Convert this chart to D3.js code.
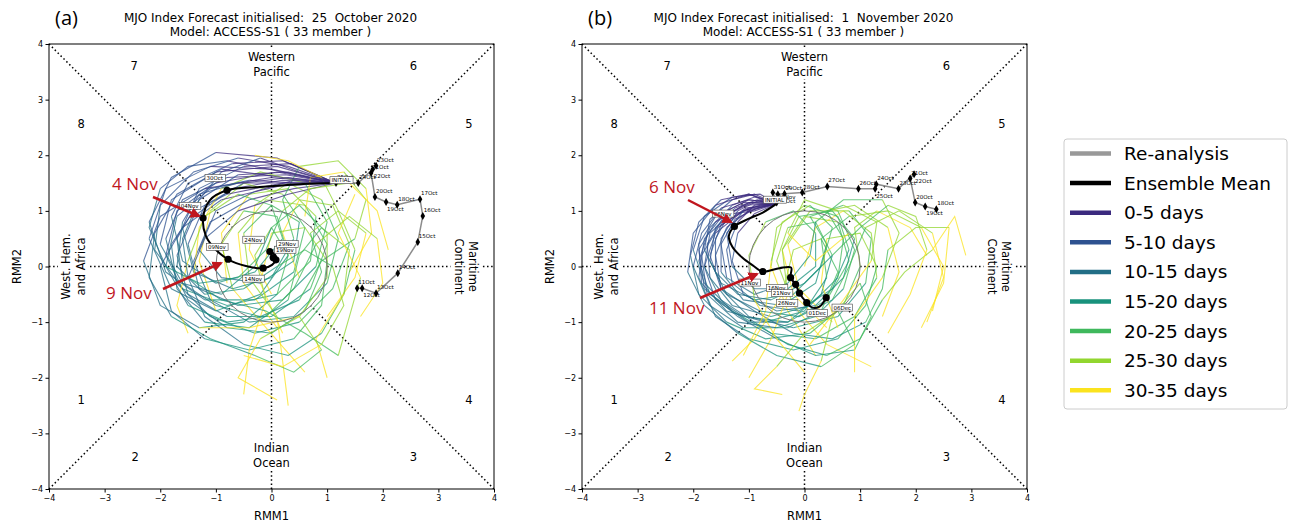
<!DOCTYPE html>
<html lang="en">
<head>
<meta charset="UTF-8">
<title>MJO phase diagrams</title>
<style>
  body { margin: 0; background: #fff; }
  svg text { font-family: "DejaVu Sans", sans-serif; }
  .tick text { font-size: 8px; }
</style>
</head>
<body>
<svg width="1290" height="522"></svg>
<script src="https://cdn.jsdelivr.net/npm/d3@7/dist/d3.min.js"></script>
<script>

var ticks = [-4, -3, -2, -1, 0, 1, 2, 3, 4];
var periodNames = ["0-5 days", "5-10 days", "10-15 days", "15-20 days", "20-25 days", "25-30 days", "30-35 days"];
var periodColors = ["#3b2a7e", "#2e5290", "#226e86", "#18927c", "#3fb85c", "#92d62f", "#fbe31e"];

// panel (a): 25 October 2020
var reanalysisA = [[1.54,-0.39],[1.63,-0.39],[1.88,-0.48],[2.27,-0.12],[2.63,0.44],[2.72,0.91],[2.67,1.21],
    [2.26,1.11],[2.06,1.16],[1.86,1.25],[1.79,1.68],[1.82,1.75],[1.88,1.81],[1.56,1.50],[1.16,1.50]];
var reanalysisDatesA = ["11Oct","12Oct","13Oct","14Oct","15Oct","16Oct","17Oct","18Oct","19Oct","20Oct",
    "21Oct","22Oct","23Oct","24Oct","25Oct"];
var meanA = [[1.16,1.50],[0.51,1.48],[-0.21,1.43],[-0.80,1.37],[-1.11,1.19],[-1.23,0.87],[-1.18,0.55],
    [-1.00,0.30],[-0.78,0.13],[-0.46,0.01],[-0.15,-0.03],[0.01,0.03],[0.08,0.12],[0.07,0.20],[-0.03,0.27],[0.03,0.16]];
var meanDotsA = [3, 5, 8, 10, 12, 14, 15];
var meanLabelsA = [["INITIAL",1.25,1.55],["30Oct",-1.02,1.59],["04Nov",-1.47,1.09],["09Nov",-0.98,0.35],
    ["14Nov",-0.33,-0.22],["24Nov",-0.33,0.48],["19Nov",0.24,0.30],["29Nov",0.28,0.40]];
var membersA = [
  [[1.15,1.5],[0.3,1.8],[-0.6,1.95],[-1.4,1.7],[-2.0,1.1],[-2.1,0.3],[-1.6,-0.4],[-0.8,-0.7],[0.1,-0.5],[0.7,0.1],[0.8,0.9],[0.3,1.4],[-0.4,1.3],[-0.9,0.6],[-0.8,-0.3]],
  [[1.15,1.5],[0.2,1.55],[-0.7,1.4],[-1.4,0.9],[-1.7,0.2],[-1.5,-0.5],[-0.8,-0.9],[0.0,-0.9],[0.7,-0.4],[1.0,0.4],[0.6,1.1],[-0.1,1.2],[-0.6,0.6],[-0.5,-0.3],[0.1,-1.1]],
  [[1.15,1.5],[0.1,1.95],[-1.0,2.05],[-1.8,1.6],[-2.2,0.8],[-1.9,-0.1],[-1.2,-0.6],[-0.3,-0.6],[0.4,-0.1],[0.6,0.7],[0.2,1.3],[-0.5,1.5],[-1.1,1.0],[-1.3,0.1],[-1.0,-0.8]],
  [[1.15,1.5],[0.4,1.4],[-0.4,1.2],[-1.1,0.8],[-1.4,0.1],[-1.1,-0.6],[-0.4,-1.0],[0.4,-0.9],[1.0,-0.3],[1.2,0.5],[0.9,1.2],[0.3,1.5],[-0.3,1.1],[-0.4,0.3],[0.0,-0.5]],
  [[1.15,1.5],[0.25,1.65],[-0.8,1.6],[-1.6,1.2],[-1.9,0.5],[-1.7,-0.3],[-1.1,-0.9],[-0.3,-1.2],[0.5,-1.0],[1.1,-0.4],[1.4,0.4],[1.1,1.1],[0.5,1.2],[0.2,0.6],[0.5,-0.2]],
  [[1.15,1.5],[0.0,1.75],[-1.1,1.8],[-1.9,1.4],[-2.2,0.5],[-1.8,-0.4],[-1.0,-0.8],[-0.2,-0.5],[0.3,0.2],[0.1,0.9],[-0.5,1.0],[-0.9,0.4],[-0.7,-0.4],[-0.1,-1.1],[0.6,-1.9]],
  [[1.15,1.5],[0.35,1.85],[-0.5,1.8],[-1.3,1.4],[-1.6,0.7],[-1.4,-0.1],[-0.7,-0.4],[0.0,-0.2],[0.4,0.5],[0.2,1.2],[0.5,1.8],[1.2,1.9],[1.7,1.4],[1.8,0.6],[1.4,-0.1]],
  [[1.15,1.5],[0.15,1.45],[-0.9,1.2],[-1.6,0.7],[-2.0,0.0],[-1.8,-0.8],[-1.2,-1.3],[-0.4,-1.5],[0.4,-1.3],[0.9,-0.7],[1.0,0.1],[0.6,0.7],[0.0,0.6],[-0.2,-0.3],[0.2,-1.2]],
  [[1.15,1.5],[0.3,1.6],[-0.5,1.5],[-1.2,1.1],[-1.5,0.4],[-1.3,-0.4],[-0.6,-0.7],[0.2,-0.6],[0.8,0.0],[1.0,0.8],[0.6,1.5],[-0.2,1.7],[-0.9,1.4],[-1.3,0.7],[-1.4,-0.2]],
  [[1.15,1.5],[0.1,1.7],[-1.0,1.5],[-1.7,1.0],[-1.9,0.2],[-1.5,-0.6],[-0.8,-1.1],[0.0,-1.2],[0.6,-0.8],[0.9,-0.1],[0.7,0.6],[1.2,1.0],[1.7,0.6],[1.5,-0.2],[1.0,-0.9]],
  [[1.15,1.5],[0.4,1.55],[-0.3,1.35],[-1.0,1.0],[-1.3,0.3],[-0.9,-0.2],[-0.2,-0.3],[0.4,0.1],[0.5,0.8],[0.0,1.1],[-0.5,0.6],[-0.4,-0.2],[0.1,-0.9],[0.2,-1.7],[0.3,-2.5]],
  [[1.15,1.5],[0.2,1.9],[-0.7,1.85],[-1.5,1.5],[-1.8,0.9],[-1.6,0.1],[-1.0,-0.3],[-0.3,-0.1],[0.2,0.5],[0.0,1.1],[-0.6,1.3],[-1.2,0.9],[-1.5,0.1],[-1.7,-0.7],[-1.5,-1.2]],
  [[1.15,1.5],[0.3,1.3],[-0.6,1.0],[-1.2,0.5],[-1.5,-0.2],[-1.2,-0.9],[-0.5,-1.4],[0.3,-1.6],[0.9,-1.2],[1.3,-0.5],[1.5,0.3],[1.2,1.0],[0.9,1.6],[0.3,1.9],[-0.3,2.0]],
  [[1.15,1.5],[0.0,1.6],[-1.2,1.4],[-2.0,0.9],[-2.3,0.1],[-2.0,-0.7],[-1.3,-1.1],[-0.5,-1.0],[0.1,-0.5],[0.3,0.2],[0.0,0.7],[-0.3,0.2],[-0.1,-0.6],[-0.4,-1.5],[-0.5,-2.3]],
  [[1.15,1.5],[0.3,1.7],[-0.6,1.65],[-1.3,1.2],[-1.7,0.5],[-1.6,-0.3],[-1.0,-0.7],[-0.2,-0.9],[0.5,-0.6],[0.9,0.1],[1.5,0.5],[1.7,1.2],[1.3,1.7],[0.7,1.6],[0.6,0.9]],
  [[1.15,1.5],[0.2,1.5],[-0.8,1.3],[-1.4,1.0],[-1.8,0.4],[-1.7,-0.4],[-1.2,-1.0],[-0.4,-1.1],[0.3,-0.6],[0.5,0.2],[0.9,0.7],[1.4,0.3],[1.3,-0.5],[0.8,-1.3],[1.0,-2.0]],
  [[1.15,1.5],[0.5,1.7],[-0.2,1.95],[-0.9,1.7],[-1.3,1.2],[-1.6,0.5],[-1.5,-0.2],[-0.9,-0.6],[-0.1,-0.8],[0.6,-1.2],[1.2,-1.6],[1.4,-0.9],[1.6,-0.2],[1.2,0.6],[1.5,1.3]],
  [[1.15,1.5],[0.2,1.6],[-0.9,1.75],[-1.7,1.3],[-2.1,0.6],[-2.2,-0.2],[-1.8,-0.9],[-1.1,-1.3],[-0.3,-1.6],[0.4,-1.9],[0.9,-1.5],[0.5,-0.9],[-0.2,-1.3],[-0.6,-2.0],[0.1,-2.4]],
  [[1.15,1.5],[0.45,1.5],[-0.4,1.55],[-1.1,1.4],[-1.7,0.9],[-1.9,0.0],[-1.5,-0.7],[-0.8,-1.0],[-0.1,-0.9],[0.4,-0.4],[0.8,0.4],[1.4,0.9],[1.9,0.5],[2.0,-0.3],[1.6,-0.9]],
  [[1.15,1.5],[0.1,1.8],[-1.0,1.7],[-1.8,1.2],[-2.0,0.4],[-1.6,-0.3],[-0.9,-0.5],[-0.3,0.0],[0.0,0.7],[0.5,1.1],[1.0,0.6],[1.0,-0.2],[0.5,-0.9],[-0.4,-1.1],[-1.3,-1.1]],
  [[1.15,1.5],[0.3,1.5],[-0.6,1.5],[-1.3,1.3],[-1.6,0.8],[-1.7,0.0],[-1.2,-0.5],[-0.5,-0.4],[0.1,0.0],[0.6,0.3],[1.1,0.0],[1.3,-0.7],[0.9,-1.4],[0.2,-1.8],[-0.5,-1.6]],
  [[1.15,1.5],[0.2,1.7],[-0.8,1.9],[-1.5,1.8],[-2.0,1.4],[-2.2,0.7],[-1.9,0.0],[-1.3,-0.3],[-0.6,-0.2],[-0.1,0.3],[0.2,1.0],[0.7,1.4],[1.4,1.5],[1.9,1.0],[2.1,0.3]]
];

// panel (b): 1 November 2020
var reanalysisB = [[2.37,1.03],[2.17,1.08],[1.99,1.15],[1.90,1.58],[1.97,1.66],[1.69,1.40],[1.29,1.48],
    [1.27,1.40],[0.97,1.40],[0.41,1.44],[-0.04,1.33],[-0.36,1.31],[-0.48,1.30],[-0.57,1.33],[-0.50,1.15]];
var reanalysisDatesB = ["18Oct","19Oct","20Oct","21Oct","22Oct","23Oct","24Oct","25Oct","26Oct","27Oct",
    "28Oct","29Oct","30Oct","31Oct","01Nov"];
var meanB = [[-0.50,1.13],[-0.75,0.97],[-1.00,0.86],[-1.26,0.72],[-1.36,0.55],[-1.30,0.36],[-1.12,0.16],
    [-0.93,0.02],[-0.75,-0.09],[-0.45,-0.03],[-0.24,-0.02],[-0.25,-0.20],[-0.16,-0.32],[-0.09,-0.48],
    [0.04,-0.65],[0.14,-0.74],[0.27,-0.72],[0.39,-0.56]];
var meanDotsB = [3, 8, 11, 12, 13, 14, 17];
var meanLabelsB = [["INITIAL",-0.54,1.20],["06Nov",-1.47,0.95],["11Nov",-0.99,-0.29],["16Nov",-0.50,-0.39],
    ["21Nov",-0.41,-0.48],["26Nov",-0.32,-0.66],["01Dec",0.23,-0.84],["06Dec",0.68,-0.74]];
var membersB = [
  [[-0.5,1.13],[-0.9,1.25],[-1.3,1.1],[-1.7,0.7],[-1.9,0.1],[-1.7,-0.5],[-1.1,-0.9],[-0.3,-1.0],[0.4,-0.6],[0.8,0.1],[0.6,0.8],[0.0,0.9],[-0.4,0.3],[-0.2,-0.5],[0.4,-1.1]],
  [[-0.5,1.13],[-1.0,1.0],[-1.4,0.7],[-1.6,0.2],[-1.5,-0.4],[-1.0,-0.9],[-0.2,-1.1],[0.6,-0.9],[1.1,-0.3],[1.2,0.5],[0.8,1.0],[0.1,1.0],[-0.3,0.4],[-0.1,-0.4],[0.5,-1.0]],
  [[-0.5,1.13],[-0.8,1.3],[-1.3,1.25],[-1.8,0.9],[-2.0,0.3],[-1.8,-0.3],[-1.3,-0.8],[-0.6,-1.2],[0.2,-1.3],[0.9,-0.9],[1.3,-0.2],[1.2,0.6],[0.7,1.0],[0.2,0.7],[0.0,0.0]],
  [[-0.5,1.13],[-1.1,1.0],[-1.6,0.6],[-1.8,0.0],[-1.6,-0.6],[-1.0,-1.0],[-0.3,-1.0],[0.3,-0.5],[0.5,0.2],[0.2,0.8],[-0.3,0.7],[-0.5,0.1],[-0.2,-0.7],[0.4,-1.4],[1.2,-1.8]],
  [[-0.5,1.13],[-0.9,1.1],[-1.2,0.8],[-1.4,0.3],[-1.3,-0.3],[-0.8,-0.7],[-0.1,-0.8],[0.5,-0.4],[0.8,0.3],[0.6,0.9],[0.0,1.1],[-0.5,0.7],[-0.6,0.0],[-0.3,-0.8],[0.2,-1.6]],
  [[-0.5,1.13],[-1.0,1.3],[-1.5,1.2],[-1.9,0.8],[-2.05,0.2],[-1.9,-0.5],[-1.4,-1.0],[-0.7,-1.3],[0.1,-1.2],[0.7,-0.7],[1.0,0.0],[0.9,0.7],[1.3,1.0],[1.9,0.7],[2.2,0.2]],
  [[-0.5,1.13],[-1.0,1.15],[-1.45,0.9],[-1.75,0.4],[-1.7,-0.2],[-1.3,-0.7],[-0.6,-0.9],[0.1,-0.7],[0.6,-0.2],[0.7,0.5],[0.4,1.0],[0.9,1.1],[1.5,0.7],[1.7,-0.1],[1.4,-0.9]],
  [[-0.5,1.13],[-0.9,0.95],[-1.2,0.6],[-1.3,0.1],[-1.1,-0.5],[-0.5,-0.8],[0.2,-0.7],[0.7,-0.2],[0.9,0.5],[0.5,1.0],[-0.1,0.9],[-0.4,0.3],[-0.3,-0.5],[-0.6,-1.3],[-1.0,-2.0]],
  [[-0.5,1.13],[-1.0,1.2],[-1.4,1.0],[-1.8,0.5],[-1.9,-0.2],[-1.6,-0.9],[-1.0,-1.3],[-0.2,-1.5],[0.6,-1.3],[1.1,-0.7],[1.3,0.0],[1.0,0.6],[0.4,0.5],[0.3,-0.3],[0.6,-1.1]],
  [[-0.5,1.13],[-1.1,1.15],[-1.6,0.9],[-1.9,0.4],[-1.85,-0.3],[-1.4,-0.8],[-0.7,-1.0],[0.0,-0.8],[0.4,-0.2],[0.3,0.5],[0.8,0.9],[1.5,1.0],[2.1,0.7],[2.5,0.0],[2.3,-0.8]],
  [[-0.5,1.13],[-0.8,1.2],[-1.2,1.0],[-1.5,0.5],[-1.5,-0.1],[-1.1,-0.6],[-0.4,-0.7],[0.2,-0.3],[0.4,0.4],[0.1,0.9],[0.7,1.1],[1.3,0.8],[1.2,0.1],[0.7,-0.6],[0.1,-1.4]],
  [[-0.5,1.13],[-1.0,1.05],[-1.5,0.75],[-1.7,0.2],[-1.5,-0.4],[-0.9,-0.8],[-0.2,-1.2],[0.5,-1.3],[1.1,-1.0],[1.4,-0.4],[1.5,0.3],[2.0,0.7],[2.6,0.7],[2.5,-0.3],[2.1,-1.1]],
  [[-0.5,1.13],[-0.9,1.3],[-1.3,1.2],[-1.7,0.85],[-1.8,0.3],[-1.5,-0.3],[-0.9,-0.6],[-0.2,-0.5],[0.3,0.0],[0.5,0.7],[0.1,1.1],[-0.4,0.8],[-0.6,0.1],[-0.7,-0.8],[-1.1,-1.6]],
  [[-0.5,1.13],[-1.1,1.1],[-1.6,0.8],[-1.9,0.3],[-1.8,-0.4],[-1.2,-0.9],[-0.5,-1.3],[0.2,-1.6],[0.9,-1.5],[1.2,-0.9],[1.0,-0.3],[0.5,-0.9],[0.3,-1.7],[0.0,-2.3],[-0.1,-2.6]],
  [[-0.5,1.13],[-0.85,1.05],[-1.25,0.85],[-1.5,0.4],[-1.4,-0.2],[-0.9,-0.5],[-0.3,-0.3],[0.1,0.2],[0.2,0.8],[0.7,1.2],[1.4,1.2],[1.7,0.6],[1.4,-0.2],[0.9,-0.9],[0.9,-1.9]],
  [[-0.5,1.13],[-1.0,1.2],[-1.5,1.05],[-1.85,0.6],[-2.0,0.0],[-1.7,-0.7],[-1.1,-1.1],[-0.3,-1.1],[0.3,-0.8],[0.6,-0.1],[0.3,0.5],[-0.2,0.3],[-0.4,-0.5],[-0.9,-1.3],[-1.3,-1.7]],
  [[-0.5,1.13],[-0.9,1.0],[-1.3,0.95],[-1.7,0.6],[-1.8,0.0],[-1.5,-0.6],[-0.9,-1.0],[-0.3,-1.4],[0.4,-1.6],[1.0,-1.3],[1.4,-0.6],[1.8,-0.1],[2.3,0.3],[2.7,0.9],[2.9,0.2]],
  [[-0.5,1.13],[-0.8,1.1],[-1.1,1.0],[-1.4,0.6],[-1.3,0.0],[-0.9,-0.4],[-0.3,-0.4],[0.2,0.0],[0.2,0.6],[-0.2,1.0],[-0.7,0.8],[-1.0,0.2],[-0.9,-0.6],[-0.5,-1.3],[0.0,-1.9]],
  [[-0.5,1.13],[-1.0,1.3],[-1.6,1.1],[-2.0,0.6],[-2.1,-0.1],[-1.8,-0.7],[-1.2,-1.2],[-0.5,-1.6],[0.3,-1.8],[0.9,-1.4],[0.6,-0.8],[0.0,-1.2],[-0.5,-1.8],[-0.9,-2.2],[-0.4,-2.3]],
  [[-0.5,1.13],[-0.95,1.15],[-1.35,0.95],[-1.6,0.5],[-1.6,-0.1],[-1.2,-0.5],[-0.6,-0.6],[0.0,-0.3],[0.5,0.2],[1.0,0.7],[1.5,1.1],[2.0,0.9],[2.2,0.3],[1.9,-0.5],[1.5,-1.2]],
  [[-0.5,1.13],[-1.05,1.05],[-1.55,0.7],[-1.85,0.2],[-1.75,-0.5],[-1.2,-1.0],[-0.5,-1.1],[0.2,-0.9],[0.7,-0.4],[0.9,0.3],[0.6,1.0],[0.0,1.2],[-0.3,0.6],[0.2,0.1],[0.8,0.6]],
  [[-0.5,1.13],[-0.85,1.2],[-1.25,1.05],[-1.6,0.7],[-1.7,0.1],[-1.4,-0.5],[-0.8,-0.8],[-0.1,-0.9],[0.5,-0.6],[0.8,0.0],[1.1,0.7],[1.7,1.0],[2.3,0.6],[2.5,-0.2],[2.2,-1.0]]
];

var svg = d3.select("svg");
var red = "#c0161e";

svg.append("defs").append("marker")
    .attr("id", "arrowhead")
    .attr("viewBox", "0 0 10 10")
    .attr("refX", 8).attr("refY", 5)
    .attr("markerWidth", 4.2).attr("markerHeight", 4.2)
    .attr("markerUnits", "strokeWidth")
    .attr("orient", "auto")
    .append("path").attr("d", "M0,0 L10,5 L0,10 Z").attr("fill", red);

function drawPanel(p) {
    var x = d3.scaleLinear().domain([-4, 4]).range([p.left, p.left + 445]);
    var y = d3.scaleLinear().domain([-4, 4]).range([489, 44]);
    var g = svg.append("g");
    var r = Math.SQRT1_2;

    // dotted phase boundaries, from the unit circle out to the frame
    var guides = [[-4,-4,-r,-r],[4,4,r,r],[-4,4,-r,r],[4,-4,r,-r],[-4,0,-1,0],[1,0,4,0],[0,-4,0,-1],[0,1,0,4]];
    g.selectAll(".guide").data(guides).enter().append("line")
        .attr("x1", function(d) { return x(d[0]); })
        .attr("y1", function(d) { return y(d[1]); })
        .attr("x2", function(d) { return x(d[2]); })
        .attr("y2", function(d) { return y(d[3]); })
        .attr("stroke", "#000")
        .attr("stroke-width", 1.5)
        .attr("stroke-dasharray", "1.5,2.6");

    // region names, with a white box that hides the dotted line behind them
    function region(lines, cx, cy, rot) {
        var t = g.append("text")
            .attr("transform", "translate(" + cx + "," + cy + ") rotate(" + rot + ")")
            .attr("text-anchor", "middle")
            .style("font-size", "11.5px");
        lines.forEach(function(s, i) {
            t.append("tspan").attr("x", 0).attr("y", i * 14.5).text(s);
        });
        var b = t.node().getBBox();
        g.insert("rect", function() { return t.node(); })
            .attr("transform", t.attr("transform"))
            .attr("x", b.x - 1).attr("y", b.y - 1)
            .attr("width", b.width + 2).attr("height", b.height + 2)
            .attr("fill", "#fff");
    }
    region(["Western", "Pacific"], x(0), 61, 0);
    region(["Indian", "Ocean"], x(0), 452, 0);
    region(["West. Hem.", "and Africa"], p.left + 21, y(0), -90);
    region(["Maritime", "Continent"], p.left + 420, y(0), 90);

    var phases = [["1",-3.42,-2.4],["2",-2.45,-3.43],["3",2.55,-3.43],["4",3.55,-2.4],
                  ["5",3.55,2.56],["6",2.55,3.6],["7",-2.47,3.6],["8",-3.42,2.56]];
    g.selectAll(".phase").data(phases).enter().append("text")
        .attr("x", function(d) { return x(d[1]); })
        .attr("y", function(d) { return y(d[2]); })
        .attr("dy", "0.36em")
        .attr("text-anchor", "middle")
        .style("font-size", "11.5px")
        .text(function(d) { return d[0]; });

    // ensemble members, each 5-day chunk in its own colour
    var line = d3.line().x(function(d) { return x(d[0]); }).y(function(d) { return y(d[1]); });
    p.members.forEach(function(m) {
        for (var k = 0; k < periodColors.length; k++) {
            g.append("path")
                .attr("d", line(m.slice(2 * k, 2 * k + 3)))
                .attr("fill", "none")
                .attr("stroke", periodColors[k])
                .attr("stroke-width", 1.1)
                .attr("stroke-opacity", 0.75);
        }
    });

    g.append("circle")
        .attr("cx", x(0)).attr("cy", y(0))
        .attr("r", x(1) - x(0))
        .attr("fill", "none")
        .attr("stroke", "#777")
        .attr("stroke-width", 1);

    // re-analysis
    g.append("path")
        .attr("d", line(p.reanalysis))
        .attr("fill", "none")
        .attr("stroke", "#8c8c8c")
        .attr("stroke-width", 1.5);
    g.selectAll(".rea").data(p.reanalysis).enter().append("path")
        .attr("d", "M0,-4L2.3,0L0,4L-2.3,0Z")
        .attr("transform", function(d) { return "translate(" + x(d[0]) + "," + y(d[1]) + ")"; })
        .attr("fill", "#000");
    // date tags; a tag that would sit on its neighbour's goes under the marker
    var prev = null;
    p.reanalysis.forEach(function(d, i) {
        var px = x(d[0]), py = y(d[1]);
        var below = prev && !prev.below && Math.abs(px - prev.x) < 16 && Math.abs(py - prev.y) < 8;
        g.append("text")
            .attr("x", px + 1)
            .attr("y", below ? py + 9 : py - 4)
            .style("font-size", "5.5px")
            .text(p.dates[i]);
        prev = {x: px, y: py, below: below};
    });

    // ensemble mean
    g.append("path")
        .attr("d", line.curve(d3.curveCatmullRom)(p.mean))
        .attr("fill", "none")
        .attr("stroke", "#000")
        .attr("stroke-width", 2);
    line.curve(d3.curveLinear);
    g.selectAll(".meanDot").data(p.dots).enter().append("circle")
        .attr("cx", function(i) { return x(p.mean[i][0]); })
        .attr("cy", function(i) { return y(p.mean[i][1]); })
        .attr("r", 3.6)
        .attr("fill", "#000");
    p.labels.forEach(function(d) {
        var t = g.append("text")
            .attr("x", x(d[1])).attr("y", y(d[2]))
            .attr("dy", "0.35em")
            .attr("text-anchor", "middle")
            .style("font-size", "5.5px")
            .text(d[0]);
        var b = t.node().getBBox();
        g.insert("rect", function() { return t.node(); })
            .attr("x", b.x - 1.5).attr("y", b.y - 0.5)
            .attr("width", b.width + 3).attr("height", b.height + 1)
            .attr("fill", "#fff")
            .attr("stroke", "#444")
            .attr("stroke-width", 0.6);
    });

    // axes and frame
    g.append("g")
        .attr("transform", "translate(0,489)")
        .call(d3.axisBottom(x).tickValues(ticks).tickSize(3.5).tickSizeOuter(0).tickPadding(2.5));
    g.append("g")
        .attr("transform", "translate(" + p.left + ",0)")
        .call(d3.axisLeft(y).tickValues(ticks).tickSize(3.5).tickSizeOuter(0).tickPadding(2.5));
    g.selectAll(".domain").remove();
    g.append("rect")
        .attr("x", x(-4)).attr("y", y(4))
        .attr("width", x(4) - x(-4)).attr("height", y(-4) - y(4))
        .attr("fill", "none")
        .attr("stroke", "#000")
        .attr("stroke-width", 1);

    g.append("text")
        .attr("x", x(0)).attr("y", 520)
        .attr("text-anchor", "middle")
        .style("font-size", "11.5px")
        .text("RMM1");
    g.append("text")
        .attr("transform", "translate(" + (p.left - 28) + "," + y(0) + ") rotate(-90)")
        .attr("text-anchor", "middle")
        .style("font-size", "11.5px")
        .text("RMM2");

    // titles
    g.append("text")
        .attr("x", x(0) - 1).attr("y", 22)
        .attr("text-anchor", "middle")
        .style("font-size", "12px")
        .style("white-space", "pre")
        .text(p.title);
    g.append("text")
        .attr("x", x(0) - 1).attr("y", 36)
        .attr("text-anchor", "middle")
        .style("font-size", "12px")
        .text("Model: ACCESS-S1 ( 33 member )");
    g.append("text")
        .attr("x", p.left + 6).attr("y", 25)
        .style("font-family", "'Open Sans', sans-serif")
        .style("font-size", "20px")
        .text(p.tag);

    // red date call-outs
    p.notes.forEach(function(n) {
        g.append("text")
            .attr("x", n[1]).attr("y", n[2])
            .attr("fill", red)
            .style("font-family", "'Open Sans', sans-serif")
            .style("font-size", "17px")
            .text(n[0]);
        g.append("line")
            .attr("x1", n[3]).attr("y1", n[4])
            .attr("x2", n[5]).attr("y2", n[6])
            .attr("stroke", red)
            .attr("stroke-width", 2.5)
            .attr("marker-end", "url(#arrowhead)");
    });
}

drawPanel({
    left: 49, tag: "(a)",
    title: "MJO Index Forecast initialised:  25  October 2020",
    members: membersA, reanalysis: reanalysisA, dates: reanalysisDatesA,
    mean: meanA, dots: meanDotsA, labels: meanLabelsA,
    notes: [["4 Nov", 112, 190, 153, 197, 199, 216], ["9 Nov", 106, 299, 163, 289, 221, 263]]
});
drawPanel({
    left: 582, tag: "(b)",
    title: "MJO Index Forecast initialised:  1  November 2020",
    members: membersB, reanalysis: reanalysisB, dates: reanalysisDatesB,
    mean: meanB, dots: meanDotsB, labels: meanLabelsB,
    notes: [["6 Nov", 649, 193, 688, 200, 731, 222], ["11 Nov", 649, 314, 700, 298, 757, 274]]
});

// legend
var legendNames = ["Re-analysis", "Ensemble Mean"].concat(periodNames);
var legendColors = ["#999999", "#000000"].concat(periodColors);
var legend = svg.append("g");
legend.append("rect")
    .attr("x", 1064).attr("y", 139)
    .attr("width", 223).attr("height", 270)
    .attr("rx", 3)
    .attr("fill", "#fff")
    .attr("stroke", "#cccccc");
var rows = legend.selectAll(".row").data(legendNames).enter().append("g")
    .attr("transform", function(d, i) { return "translate(0," + (153.5 + i * 29.6) + ")"; });
rows.append("line")
    .attr("x1", 1070).attr("x2", 1111)
    .attr("stroke", function(d, i) { return legendColors[i]; })
    .attr("stroke-width", 4.5);
rows.append("text")
    .attr("x", 1124).attr("dy", "0.35em")
    .style("font-size", "18.5px")
    .text(function(d) { return d; });
</script>
</body>
</html>
